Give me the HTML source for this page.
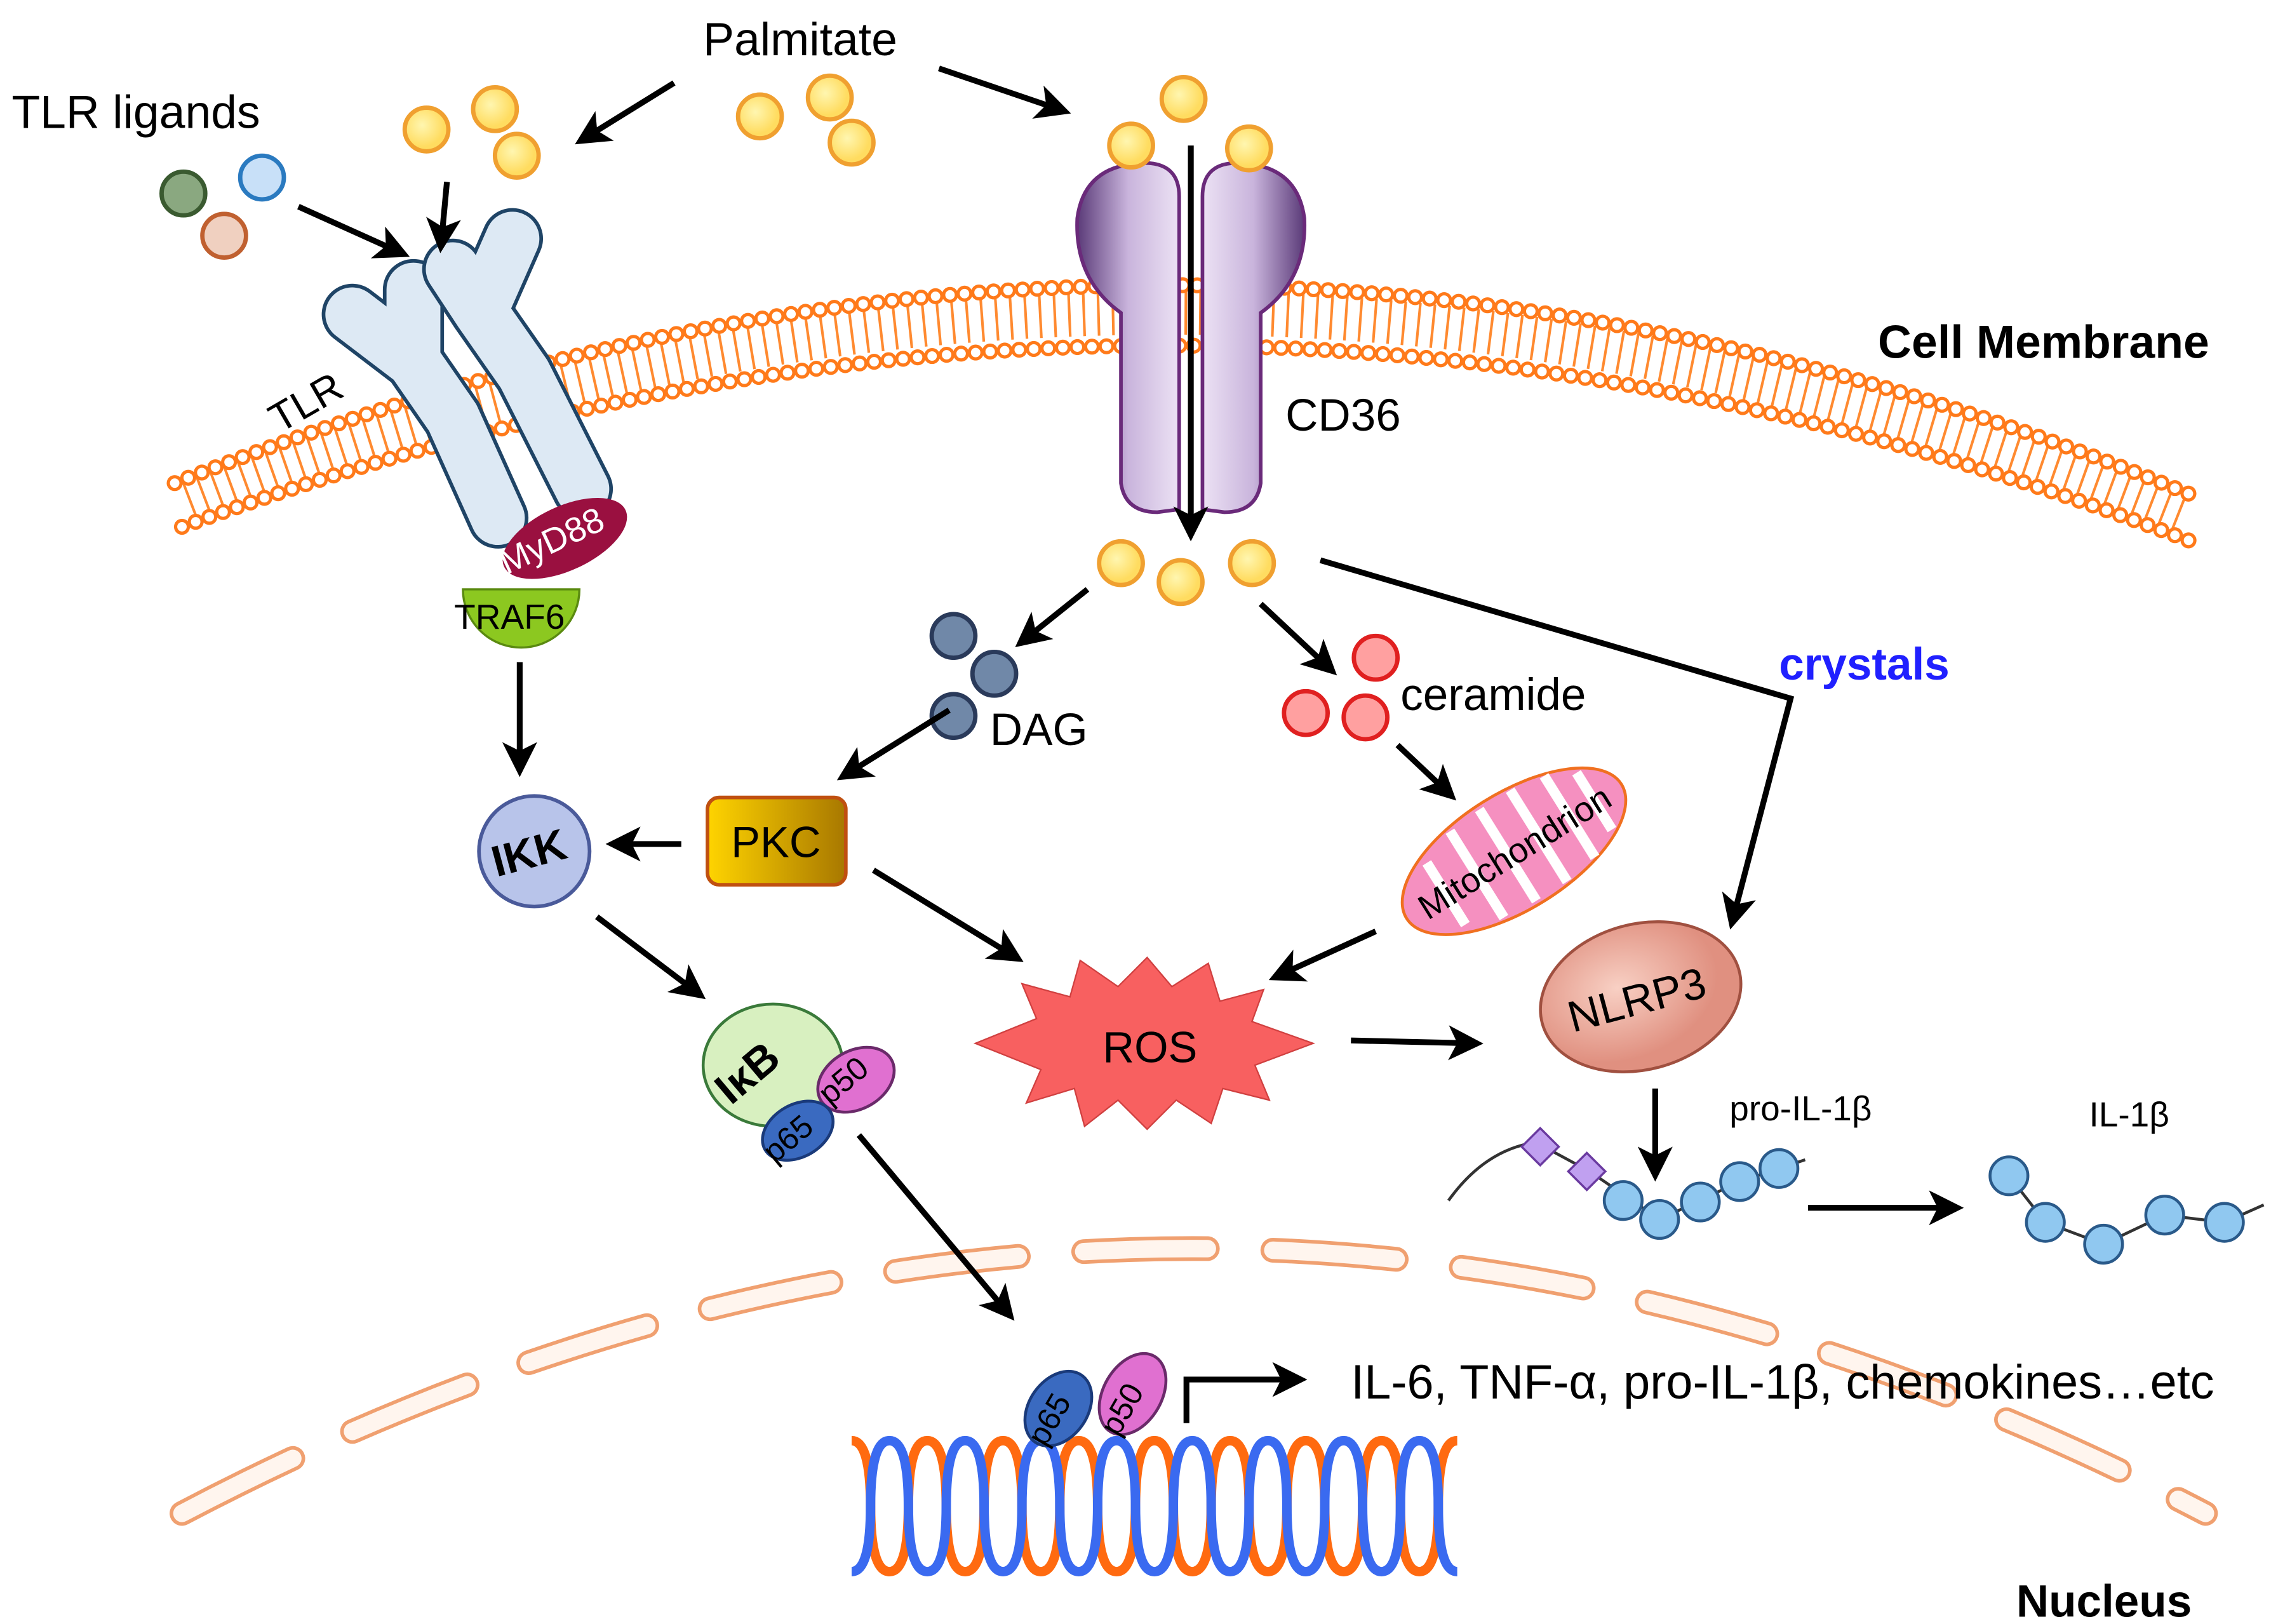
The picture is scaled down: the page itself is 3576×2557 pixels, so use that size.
<!DOCTYPE html>
<html><head><meta charset="utf-8"><style>
html,body{margin:0;padding:0;background:#fff}
svg{display:block}
text{font-family:"Liberation Sans",Arial,sans-serif}
</style></head><body>
<svg width="3576" height="2557" viewBox="0 0 1560 1116" preserveAspectRatio="none" xmlns="http://www.w3.org/2000/svg">
<defs>
<marker id="ah" markerWidth="6" markerHeight="6" refX="4.5" refY="3" orient="auto" markerUnits="strokeWidth">
<path d="M0,0 L6,3 L0,6 L1.5,3 Z" fill="#000"/></marker>
<linearGradient id="cdL" x1="0" x2="1"><stop offset="0" stop-color="#5a3a78"/><stop offset="0.5" stop-color="#c9b4dc"/><stop offset="1" stop-color="#ece2f4"/></linearGradient>
<linearGradient id="cdR" x1="0" x2="1"><stop offset="0" stop-color="#ece2f4"/><stop offset="0.5" stop-color="#c9b4dc"/><stop offset="1" stop-color="#5a3a78"/></linearGradient>
<linearGradient id="pkc" x1="0" x2="1"><stop offset="0" stop-color="#ffd400"/><stop offset="1" stop-color="#a87800"/></linearGradient>
<radialGradient id="nl" cx="0.4" cy="0.4"><stop offset="0" stop-color="#f8d0c4"/><stop offset="1" stop-color="#e09080"/></radialGradient>
<radialGradient id="yc" cx="0.4" cy="0.4"><stop offset="0" stop-color="#fff6b0"/><stop offset="1" stop-color="#ffdc60"/></radialGradient>
</defs>

<g fill="none">
<path d="M130,345 Q818,80 1505,355" stroke="#ff8a30" stroke-width="30" stroke-dasharray="1.8 8.2"/>
<path d="M120,332 Q818,55 1510,342" stroke="#ff7a1a" stroke-width="11" stroke-dasharray="0 10" stroke-linecap="round"/>
<path d="M120,332 Q818,55 1510,342" stroke="#fff" stroke-width="6.5" stroke-dasharray="0 10" stroke-linecap="round"/>
<path d="M125,362 Q818,108 1505,372" stroke="#ff7a1a" stroke-width="11" stroke-dasharray="0 10" stroke-linecap="round"/>
<path d="M125,362 Q818,108 1505,372" stroke="#fff" stroke-width="6.5" stroke-dasharray="0 10" stroke-linecap="round"/>
</g>

<g fill="none" stroke-linecap="round">
<path d="M125,1040 Q818,676 1515,1040" stroke="#f0a070" stroke-width="17" stroke-dasharray="85 45"/>
<path d="M125,1040 Q818,676 1515,1040" stroke="#fff5ee" stroke-width="12" stroke-dasharray="85 45"/>
</g>

<g fill="none" stroke-linejoin="round" stroke-linecap="round">
<path d="M342,356 L311,287 L284,248 M284,248 L242,216 M284,248 L284,199" stroke="#1f4466" stroke-width="42"/>
<path d="M342,356 L311,287 L284,248 M284,248 L242,216 M284,248 L284,199" stroke="#dde9f4" stroke-width="37"/>
<path d="M400,336 L360,257 L330,214 M330,214 L311,185 M330,214 L352,164" stroke="#1f4466" stroke-width="42"/>
<path d="M400,336 L360,257 L330,214 M330,214 L311,185 M330,214 L352,164" stroke="#dde9f4" stroke-width="37"/>
</g>
<text x="0" y="0" font-size="28" transform="translate(192,298) rotate(-30)">TLR</text>
<path d="M318,405 A40,40 0 0 0 398,405 Z" fill="#8cc820" stroke="#5a8a10" stroke-width="1.5"/>
<ellipse cx="388" cy="370" rx="46" ry="22" fill="#9a1040" transform="rotate(-25 388 370)"/>
<text x="0" y="0" font-size="24" fill="#fff" transform="translate(348,395) rotate(-25)">MyD88</text>
<text x="312" y="432" font-size="24">TRAF6</text>

<path d="M810,350 L810,135 Q810,113 788,112 Q745,112 740,150 Q738,192 770,215 L770,332 Q773,352 795,352 Z" fill="url(#cdL)" stroke="#6a2a7a" stroke-width="2.5"/>
<path d="M826,350 L826,135 Q826,113 848,112 Q891,112 896,150 Q898,192 866,215 L866,332 Q863,352 841,352 Z" fill="url(#cdR)" stroke="#6a2a7a" stroke-width="2.5"/>
<text x="883" y="296" font-size="31">CD36</text>
<text x="1290" y="246" font-size="32" font-weight="bold">Cell Membrane</text>

<g fill="url(#yc)" stroke="#f0a030" stroke-width="3">
<circle cx="293" cy="89" r="15"/><circle cx="340" cy="75" r="15"/><circle cx="355" cy="107" r="15"/>
<circle cx="522" cy="80" r="15"/><circle cx="570" cy="67" r="15"/><circle cx="585" cy="98" r="15"/>
<circle cx="813" cy="68" r="15"/><circle cx="777" cy="100" r="15"/><circle cx="858" cy="102" r="15"/>
<circle cx="770" cy="387" r="15"/><circle cx="811" cy="400" r="15"/><circle cx="860" cy="387" r="15"/>
</g>
<circle cx="126" cy="133" r="15" fill="#8aa880" stroke="#3a5a30" stroke-width="3"/>
<circle cx="180" cy="122" r="15" fill="#c8e0f8" stroke="#2a7ac0" stroke-width="3"/>
<circle cx="154" cy="162" r="15" fill="#f0d0c0" stroke="#c06030" stroke-width="3"/>
<g fill="#7088a8" stroke="#2a3a5a" stroke-width="3">
<circle cx="655" cy="437" r="15"/><circle cx="683" cy="463" r="15"/><circle cx="655" cy="492" r="15"/>
</g>
<g fill="#ffa0a0" stroke="#e02020" stroke-width="3">
<circle cx="945" cy="452" r="15"/><circle cx="897" cy="490" r="15"/><circle cx="938" cy="493" r="15"/>
</g>

<text x="483" y="38" font-size="32">Palmitate</text>
<text x="8" y="88" font-size="32">TLR ligands</text>
<text x="680" y="512" font-size="31">DAG</text>
<text x="962" y="488" font-size="31">ceramide</text>
<text x="1222" y="467" font-size="31" font-weight="bold" fill="#2020ff">crystals</text>

<circle cx="367" cy="585" r="38" fill="#b8c4ea" stroke="#4a5a9a" stroke-width="2.5"/>
<text x="0" y="0" font-size="30" font-weight="bold" text-anchor="middle" transform="translate(366,596) rotate(-15)">IKK</text>
<rect x="486" y="548" width="95" height="60" rx="8" fill="url(#pkc)" stroke="#c05010" stroke-width="2.5"/>
<text x="533" y="589" font-size="30" text-anchor="middle">PKC</text>
<g transform="rotate(-32 1040 585)">
<ellipse cx="1040" cy="585" rx="87" ry="40" fill="#f590c0" stroke="#f07020" stroke-width="2"/>
<g stroke="#fff" stroke-width="7">
<line x1="985" y1="560" x2="985" y2="610"/><line x1="1010" y1="550" x2="1010" y2="620"/><line x1="1035" y1="548" x2="1035" y2="622"/><line x1="1060" y1="548" x2="1060" y2="622"/><line x1="1085" y1="552" x2="1085" y2="618"/><line x1="1105" y1="562" x2="1105" y2="608"/>
</g>
<text x="1040" y="594" font-size="24" text-anchor="middle">Mitochondrion</text>
</g>
<polygon points="670,717 712,700 702,676 735,685 742,660 768,678 788,658 805,678 830,662 838,688 868,680 860,702 902,717 862,732 872,756 840,748 832,772 808,756 788,776 768,756 745,774 738,748 705,758 715,735" fill="#f86060" stroke="#d04040" stroke-width="1"/>
<text x="790" y="730" font-size="30" text-anchor="middle">ROS</text>
<ellipse cx="1127" cy="685" rx="70" ry="50" fill="url(#nl)" stroke="#a05040" stroke-width="2" transform="rotate(-15 1127 685)"/>
<text x="0" y="0" font-size="30" text-anchor="middle" transform="translate(1127,697) rotate(-15)">NLRP3</text>
<ellipse cx="531" cy="732" rx="48" ry="42" fill="#d8f0c0" stroke="#3a7a3a" stroke-width="2"/>
<ellipse cx="588" cy="742" rx="28" ry="20" fill="#e070d0" stroke="#6a2a6a" stroke-width="2" transform="rotate(-30 588 742)"/>
<ellipse cx="548" cy="777" rx="26" ry="18" fill="#3a6ac0" stroke="#1a3a7a" stroke-width="2" transform="rotate(-30 548 777)"/>
<text x="0" y="0" font-size="30" font-weight="bold" transform="translate(502,760) rotate(-40)">IκB</text>
<text x="0" y="0" font-size="22" transform="translate(570,760) rotate(-40)">p50</text>
<text x="0" y="0" font-size="22" transform="translate(532,800) rotate(-40)">p65</text>

<g stroke="#000" stroke-width="4" fill="none" marker-end="url(#ah)">
<line x1="463" y1="57" x2="400" y2="96"/>
<line x1="645" y1="47" x2="730" y2="76"/>
<line x1="205" y1="142" x2="276" y2="174"/>
<line x1="307" y1="125" x2="303" y2="168"/>
<line x1="818" y1="100" x2="818" y2="366"/>
<line x1="747" y1="405" x2="702" y2="441"/>
<line x1="866" y1="415" x2="914" y2="460"/>
<polyline points="907,385 1230,480 1190,633"/>
<line x1="652" y1="488" x2="580" y2="533"/>
<line x1="960" y1="512" x2="996" y2="546"/>
<line x1="468" y1="580" x2="422" y2="580"/>
<line x1="357" y1="455" x2="357" y2="528"/>
<line x1="600" y1="598" x2="698" y2="658"/>
<line x1="945" y1="640" x2="877" y2="671"/>
<line x1="410" y1="630" x2="480" y2="683"/>
<line x1="928" y1="715" x2="1013" y2="717"/>
<line x1="590" y1="780" x2="693" y2="903"/>
<line x1="1137" y1="748" x2="1137" y2="806"/>
<line x1="1242" y1="830" x2="1343" y2="830"/>
<polyline points="815,978 815,948 892,948"/>
</g>

<text x="1188" y="770" font-size="24">pro-IL-1β</text>
<text x="1435" y="774" font-size="24">IL-1β</text>
<path d="M995,825 Q1020,790 1055,785 L1092,805 L1140,838 L1195,812 L1240,797" fill="none" stroke="#333" stroke-width="2"/>
<rect x="1049" y="779" width="18" height="18" fill="#c0a0f0" stroke="#6a3aa0" stroke-width="1.5" transform="rotate(45 1058 788)"/>
<rect x="1081" y="796" width="18" height="18" fill="#c0a0f0" stroke="#6a3aa0" stroke-width="1.5" transform="rotate(45 1090 805)"/>
<g fill="#90c8f0" stroke="#2a5a8a" stroke-width="2">
<circle cx="1115" cy="825" r="13"/><circle cx="1140" cy="838" r="13"/><circle cx="1168" cy="826" r="13"/><circle cx="1195" cy="812" r="13"/><circle cx="1222" cy="803" r="13"/>
</g>
<path d="M1380,808 L1405,840 L1445,855 L1487,835 L1528,840 L1555,828" fill="none" stroke="#333" stroke-width="2"/>
<g fill="#90c8f0" stroke="#2a5a8a" stroke-width="2">
<circle cx="1380" cy="808" r="13"/><circle cx="1405" cy="840" r="13"/><circle cx="1445" cy="855" r="13"/><circle cx="1487" cy="835" r="13"/><circle cx="1528" cy="840" r="13"/>
</g>

<path d="M585,990 q13,0 13,45 t13,45 t13,-45 t13,-45 t13,45 t13,45 t13,-45 t13,-45 t13,45 t13,45 t13,-45 t13,-45 t13,45 t13,45 t13,-45 t13,-45 t13,45 t13,45 t13,-45 t13,-45 t13,45 t13,45 t13,-45 t13,-45 t13,45 t13,45 t13,-45 t13,-45 t13,45 t13,45 t13,-45 t13,-45" fill="none" stroke="#ff6a10" stroke-width="6.5"/>
<path d="M585,1080 q13,0 13,-45 t13,-45 t13,45 t13,45 t13,-45 t13,-45 t13,45 t13,45 t13,-45 t13,-45 t13,45 t13,45 t13,-45 t13,-45 t13,45 t13,45 t13,-45 t13,-45 t13,45 t13,45 t13,-45 t13,-45 t13,45 t13,45 t13,-45 t13,-45 t13,45 t13,45 t13,-45 t13,-45 t13,45 t13,45" fill="none" stroke="#3a6af0" stroke-width="6.5"/>
<ellipse cx="778" cy="958" rx="30" ry="20" fill="#e070d0" stroke="#6a2a6a" stroke-width="2" transform="rotate(-60 778 958)"/>
<ellipse cx="727" cy="968" rx="28" ry="20" fill="#3a6ac0" stroke="#1a3a7a" stroke-width="2" transform="rotate(-55 727 968)"/>
<text x="0" y="0" font-size="22" transform="translate(768,988) rotate(-60)">p50</text>
<text x="0" y="0" font-size="22" transform="translate(718,995) rotate(-60)">p65</text>
<text x="928" y="961" font-size="33">IL-6, TNF-α, pro-IL-1β, chemokines…etc</text>
<text x="1385" y="1111" font-size="31" font-weight="bold">Nucleus</text>
</svg>
</body></html>
